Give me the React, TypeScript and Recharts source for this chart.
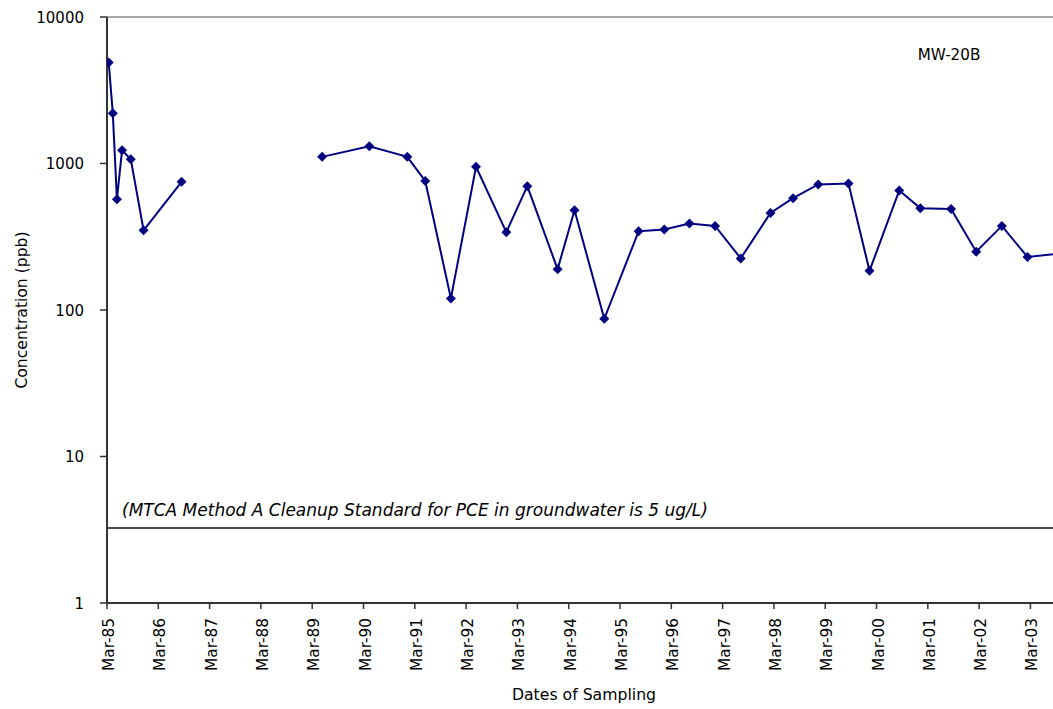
import { LineChart, Line, XAxis, YAxis, ReferenceLine } from 'recharts';

// sampling dates as decimal years, concentration in ppb (null = gap in record)
const sampleDates = [
  1985.20, 1985.28, 1985.36, 1985.46, 1985.63, 1985.88, 1986.62,
  1987.9,
  1989.36, 1990.28, 1991.02, 1991.37, 1991.87, 1992.36, 1992.95, 1993.36,
  1993.95, 1994.28, 1994.86, 1995.53, 1996.03, 1996.52, 1997.02, 1997.52,
  1998.10, 1998.54, 1999.03, 1999.62, 2000.03, 2000.61, 2001.02, 2001.62,
  2002.11, 2002.61, 2003.11, 2004.07,
];
const pceValues = [
  4900, 2200, 570, 1230, 1070, 350, 750,
  null,
  1110, 1310, 1110, 760, 120, 950, 340, 700,
  190, 480, 87, 345, 355, 390, 375, 225,
  460, 580, 720, 730, 185, 655, 495, 490,
  250, 375, 230, 250,
];
const tickLabels = [
  'Mar-85', 'Mar-86', 'Mar-87', 'Mar-88', 'Mar-89', 'Mar-90', 'Mar-91',
  'Mar-92', 'Mar-93', 'Mar-94', 'Mar-95', 'Mar-96', 'Mar-97', 'Mar-98',
  'Mar-99', 'Mar-00', 'Mar-01', 'Mar-02', 'Mar-03',
];
const yTicks = [1, 10, 100, 1000, 10000];
const cleanupStandard = 3.25;
const wellName = 'MW-20B';
const noteText = '(MTCA Method A Cleanup Standard for PCE in groundwater is 5 ug/L)';

const firstTick = 1985 + 2 / 12;
const xTicks = tickLabels.map((_, i) => firstTick + i);
const data = sampleDates.map((d, i) => ({ date: d, pce: pceValues[i] }));

const font = '"DejaVu Sans", sans-serif';
const navy = '#000080';

const Diamond = (props: any) => {
  const { cx, cy, index } = props;
  if (cx == null || cy == null || props.value == null) return <g key={index} />;
  const r = 5;
  return (
    <path
      key={index}
      d={`M${cx},${cy - r}L${cx + r},${cy}L${cx},${cy + r}L${cx - r},${cy}Z`}
      fill={navy}
    />
  );
};

const XTick = ({ x, y, payload }: any) => {
  const idx = xTicks.findIndex((t) => Math.abs(t - payload.value) < 0.01);
  return (
    <text
      transform={`translate(${x + 7},${y}) rotate(-90)`}
      textAnchor="end"
      fontFamily={font}
      fontSize={15.3}
      fill="#000"
    >
      {idx >= 0 ? tickLabels[idx] : ''}
    </text>
  );
};

const YTick = ({ x, y, payload }: any) => (
  <text x={x} y={y + 5.5} textAnchor="end" fontFamily={font} fontSize={15} fill="#000">
    {payload.value}
  </text>
);

const YTitle = ({ viewBox }: any) => {
  const x = viewBox.x + 27;
  const y = viewBox.y + viewBox.height / 2;
  return (
    <text transform={`translate(${x},${y}) rotate(-90)`} textAnchor="middle" fontFamily={font} fontSize={15.6} fill="#000">
      Concentration (ppb)
    </text>
  );
};

const XTitle = ({ viewBox }: any) => (
  <text x={viewBox.x + viewBox.width / 2 + 4} y={viewBox.y + 97} textAnchor="middle" fontFamily={font} fontSize={15.7} fill="#000">
    Dates of Sampling
  </text>
);

const WellLabel = ({ viewBox }: any) => (
  <text x={viewBox.x + 842} y={viewBox.y + 43} textAnchor="middle" fontFamily={font} fontSize={15.2} fill="#000">
    {wellName}
  </text>
);

const NoteLabel = ({ viewBox }: any) => (
  <text x={viewBox.x + 15} y={viewBox.y - 12} fontFamily={font} fontSize={17} fontStyle="italic" fill="#000">
    {noteText}
  </text>
);

export default function App() {
  return (
    <div style={{ position: 'absolute', left: 0, top: 0, width: 1053, height: 709, background: '#fff' }}>
      <LineChart width={1053} height={709} data={data} margin={{ top: 17, right: 0, bottom: 46, left: 0 }}>
        <XAxis
          dataKey="date"
          type="number"
          domain={[firstTick, firstTick + 18.44]}
          allowDataOverflow
          ticks={xTicks}
          interval={0}
          tick={<XTick />}
          tickSize={6}
          tickMargin={9}
          height={60}
          axisLine={{ stroke: '#333', strokeWidth: 2 }}
          tickLine={{ stroke: '#333', strokeWidth: 1.5 }}
          label={<XTitle />}
        />
        <YAxis
          scale="log"
          domain={[1, 10000]}
          allowDataOverflow
          ticks={yTicks}
          interval={0}
          tick={<YTick />}
          tickSize={7}
          tickMargin={16}
          width={107}
          axisLine={{ stroke: '#333', strokeWidth: 2 }}
          tickLine={{ stroke: '#333', strokeWidth: 1.5 }}
          label={<YTitle />}
        />
        <ReferenceLine y={10000} stroke="#888" strokeWidth={1.5} label={<WellLabel />} />
        <ReferenceLine y={cleanupStandard} stroke="#111" strokeWidth={1.5} label={<NoteLabel />} />
        <Line
          dataKey="pce"
          stroke={navy}
          strokeWidth={2}
          dot={Diamond}
          activeDot={false}
          connectNulls={false}
          isAnimationActive={false}
        />
      </LineChart>
    </div>
  );
}
